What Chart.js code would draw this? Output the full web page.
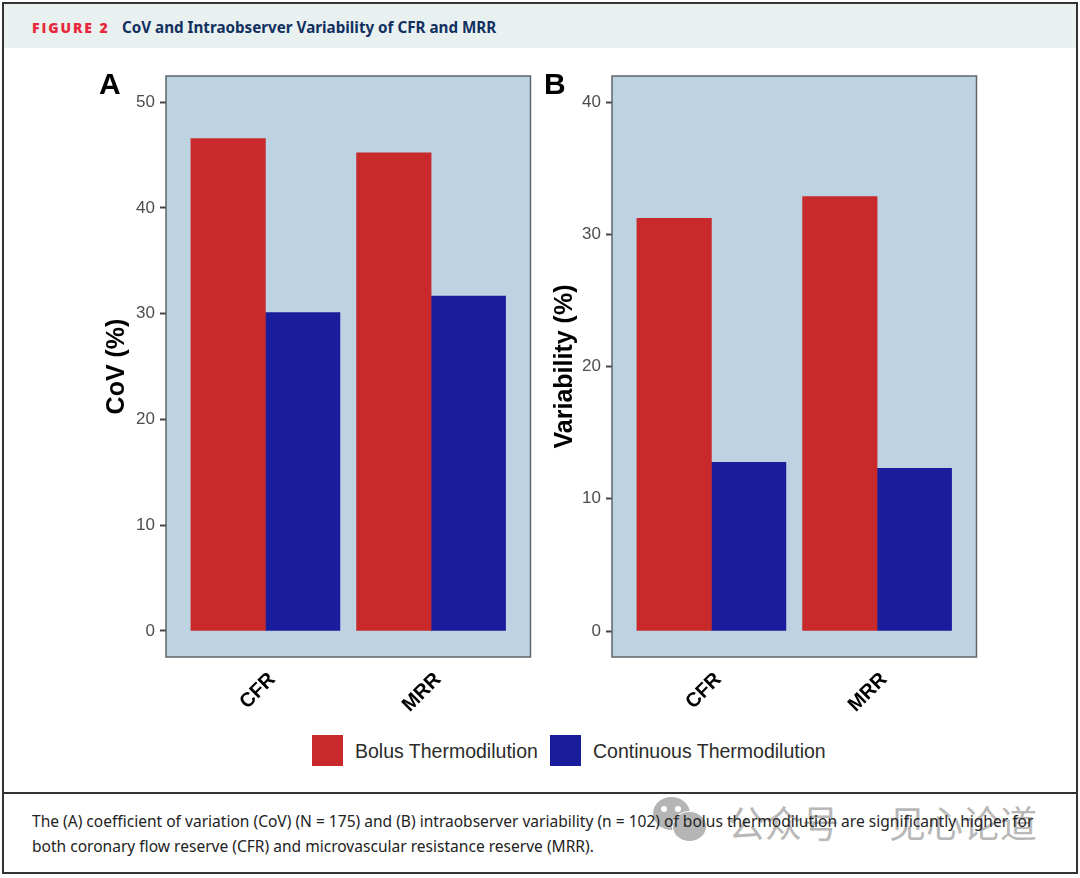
<!DOCTYPE html>
<html>
<head>
<meta charset="utf-8">
<script src="https://cdn.jsdelivr.net/npm/chart.js@4"></script>
<style>
    html, body { margin: 0; padding: 0; background: #fff; }
    body { position: relative; width: 1080px; height: 878px; overflow: hidden; font-family: "Liberation Sans", sans-serif; }
    .abs { position: absolute; white-space: nowrap; }
    #frame { left: 2px; top: 2px; width: 1072px; height: 868px; border: 2px solid #333; }
    #band { left: 4px; top: 4px; width: 1072px; height: 44px; background: #e8f0f0; }
    #rule { left: 2px; top: 792px; width: 1075px; height: 2px; background: #333; }
    #figNo { left: 32px; top: 19px; font: 800 14px/18px "Open Sans", sans-serif; letter-spacing: 1.9px; color: #e8283a; }
    #figTitle { left: 122px; top: 17px; font: bold 15.2px/21px "Noto Sans", sans-serif; color: #12305f; }
    .cap { left: 32px; font: 15.55px/20px "Noto Sans", sans-serif; color: #222; }
    .letter { top: 66px; font: bold 30px/36px "Liberation Sans", sans-serif; color: #000; }
    .swatch { top: 735px; width: 31px; height: 31px; }
    .legText { top: 739px; font: 19.5px/24px "Liberation Sans", sans-serif; color: #2b2b2b; }
    .mark { top: 802px; font: 37px/40px "Noto Sans CJK SC", sans-serif; color: #b8b8b8; }
    .bubble { border-radius: 50%; background: #b5b5b5; }
    .eye { border-radius: 50%; background: #fff; width: 6px; height: 6px; }
    canvas { position: absolute; }
</style>
</head>
<body>
<div class="abs" id="frame"></div>
<div class="abs" id="band"></div>
<div class="abs" id="rule"></div>
<div class="abs" id="figNo">FIGURE 2</div>
<div class="abs" id="figTitle">CoV and Intraobserver Variability of CFR and MRR</div>

<canvas id="cov-chart" style="left:90px;top:66px"></canvas>
<canvas id="variability-chart" style="left:536px;top:66px"></canvas>
<div class="abs letter" style="left:99px">A</div>
<div class="abs letter" style="left:544px">B</div>

<div id="legend"></div>

<!-- watermark sits under the caption text -->
<div class="abs bubble" style="left:653px;top:797px;width:37px;height:33px"></div>
<div class="abs eye" style="left:661px;top:806px"></div>
<div class="abs eye" style="left:675px;top:806px"></div>
<div class="abs bubble" style="left:672px;top:811px;width:33px;height:29px;border:1.5px solid #fff"></div>
<div class="abs mark" style="left:728px">公众号</div>
<div class="abs mark" style="left:889px">见心论道</div>

<div class="abs cap" style="top:811px">The (A) coefficient of variation (CoV) (N = 175) and (B) intraobserver variability (n = 102) of bolus thermodilution are significantly higher for</div>
<div class="abs cap" style="top:836px">both coronary flow reserve (CFR) and microvascular resistance reserve (MRR).</div>

<script>
const categories = ['CFR', 'MRR'];
const seriesNames = ['Bolus Thermodilution', 'Continuous Thermodilution'];
const covBolus = [46.55, 45.2];
const covContinuous = [30.1, 31.65];
const variabilityBolus = [31.2, 32.85];
const variabilityContinuous = [12.75, 12.3];
const covTicks = [0, 10, 20, 30, 40, 50];
const variabilityTicks = [0, 10, 20, 30, 40];

const red = '#c82a2b';
const blue = '#191d9b';

// panel background and border, ggplot style
const panelPlugin = {
    id: 'panel',
    beforeDraw(chart) {
        const a = chart.chartArea;
        chart.ctx.save();
        chart.ctx.fillStyle = '#bed3e2';
        chart.ctx.fillRect(a.left, a.top, a.width, a.height);
        chart.ctx.restore();
    },
    afterDraw(chart) {
        const a = chart.chartArea;
        chart.ctx.save();
        chart.ctx.strokeStyle = '#5f6468';
        chart.ctx.lineWidth = 1.5;
        chart.ctx.strokeRect(a.left, a.top, a.width, a.height);
        chart.ctx.restore();
    }
};

function toPoints(values) {
    return values.map((v, i) => ({ x: i + 1, y: v }));
}

function createChart(canvasId, width, title, titlePad, bolus, continuous, yTicks, yMin, yMax) {
    const canvas = document.getElementById(canvasId);
    canvas.width = width;
    canvas.height = 660;
    canvas.style.width = width + 'px';
    canvas.style.height = '660px';
    new Chart(canvas, {
        type: 'bar',
        data: {
            datasets: [
                { label: seriesNames[0], data: toPoints(bolus), backgroundColor: red, barThickness: 74.5 },
                { label: seriesNames[1], data: toPoints(continuous), backgroundColor: blue, barThickness: 74.5 }
            ]
        },
        plugins: [panelPlugin],
        options: {
            responsive: false,
            animation: false,
            layout: { padding: { top: 10, right: width - 76 - 364.5, left: 0, bottom: 0 } },
            plugins: { legend: { display: false }, tooltip: { enabled: false } },
            scales: {
                x: {
                    type: 'linear',
                    offset: false,
                    min: 0.4,
                    max: 2.6,
                    afterBuildTicks: scale => { scale.ticks = categories.map((c, i) => ({ value: i + 1 })); },
                    afterFit: scale => { scale.height = 69; },
                    border: { display: false },
                    grid: { offset: false, drawOnChartArea: false, drawTicks: false },
                    ticks: {
                        callback: value => categories[value - 1],
                        minRotation: 45,
                        maxRotation: 45,
                        padding: 11,
                        labelOffset: 7,
                        font: { family: 'Liberation Sans', size: 20, weight: 'bold' },
                        color: '#000'
                    }
                },
                y: {
                    min: yMin,
                    max: yMax,
                    afterBuildTicks: scale => { scale.ticks = yTicks.map(v => ({ value: v })); },
                    afterFit: scale => {
                        scale.width = 76;
                        scale.paddingTop = 0;
                        scale.paddingBottom = 0;
                    },
                    border: { display: false },
                    grid: { drawOnChartArea: false, tickLength: 6, tickColor: '#444', tickWidth: 2 },
                    ticks: {
                        padding: 5,
                        font: { family: 'Liberation Sans', size: 17 },
                        color: '#4d4d4d'
                    },
                    title: {
                        display: true,
                        text: title,
                        padding: { top: titlePad, bottom: 0 },
                        font: { family: 'Liberation Sans', size: 25, weight: 'bold' },
                        color: '#000'
                    }
                }
            }
        }
    });
}

function addLegend() {
    const box = document.getElementById('legend');
    const swatchLeft = [312, 550];
    const textLeft = [355, 593];
    seriesNames.forEach((name, i) => {
        const s = document.createElement('div');
        s.className = 'abs swatch';
        s.style.left = swatchLeft[i] + 'px';
        s.style.background = i === 0 ? red : blue;
        box.appendChild(s);
        const t = document.createElement('div');
        t.className = 'abs legText';
        t.style.left = textLeft[i] + 'px';
        t.textContent = name;
        box.appendChild(t);
    });
}

createChart('cov-chart', 445, 'CoV (%)', 12, covBolus, covContinuous, covTicks, -2.46, 52.46);
createChart('variability-chart', 446, 'Variability (%)', 14, variabilityBolus, variabilityContinuous, variabilityTicks, -1.966, 41.97);
addLegend();
</script>
</body>
</html>
